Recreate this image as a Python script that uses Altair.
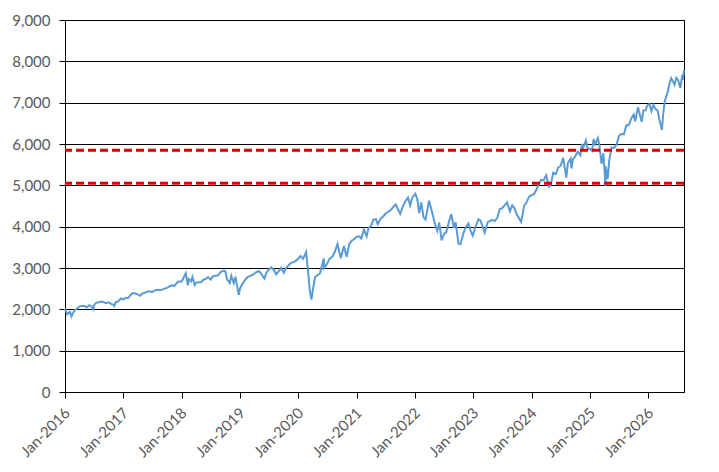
import altair as alt
import pandas as pd

dates = [
    "2016-01-01", "2016-01-15", "2016-02-01", "2016-02-11", "2016-02-15", "2016-03-01", "2016-03-15",
    "2016-04-01", "2016-04-15", "2016-05-01", "2016-05-15", "2016-06-01", "2016-06-15", "2016-06-27",
    "2016-07-01", "2016-07-15", "2016-08-01", "2016-08-15", "2016-09-01", "2016-09-15", "2016-10-01",
    "2016-10-15", "2016-11-01", "2016-11-04", "2016-11-15", "2016-12-01", "2016-12-15",
    "2017-01-01", "2017-01-15", "2017-02-01", "2017-02-15", "2017-03-01", "2017-03-15", "2017-04-01",
    "2017-04-15", "2017-05-01", "2017-05-15", "2017-06-01", "2017-06-15", "2017-07-01", "2017-07-15",
    "2017-08-01", "2017-08-15", "2017-09-01", "2017-09-15", "2017-10-01", "2017-10-15", "2017-11-01",
    "2017-11-15", "2017-12-01", "2017-12-15",
    "2018-01-01", "2018-01-15", "2018-01-26", "2018-02-08", "2018-02-15", "2018-03-01", "2018-03-09",
    "2018-03-23", "2018-04-01", "2018-04-15", "2018-05-01", "2018-05-15", "2018-06-01", "2018-06-15",
    "2018-07-01", "2018-07-15", "2018-08-01", "2018-08-15", "2018-09-01", "2018-09-20", "2018-10-01",
    "2018-10-11", "2018-10-29", "2018-11-07", "2018-11-23", "2018-12-03", "2018-12-24",
    "2019-01-01", "2019-01-15", "2019-02-01", "2019-02-15", "2019-03-01", "2019-03-15", "2019-04-01",
    "2019-04-15", "2019-05-01", "2019-05-15", "2019-06-03", "2019-06-15", "2019-07-01", "2019-07-15",
    "2019-08-01", "2019-08-15", "2019-09-01", "2019-09-15", "2019-10-02", "2019-10-15", "2019-11-01",
    "2019-11-15", "2019-12-01", "2019-12-15",
    "2020-01-01", "2020-01-15", "2020-01-31", "2020-02-19", "2020-03-01", "2020-03-12", "2020-03-23",
    "2020-04-01", "2020-04-15", "2020-05-01", "2020-05-15", "2020-06-08", "2020-06-11", "2020-07-01",
    "2020-07-15", "2020-08-01", "2020-08-15", "2020-09-02", "2020-09-23", "2020-10-12", "2020-10-30",
    "2020-11-15", "2020-12-01", "2020-12-15",
    "2021-01-01", "2021-01-15", "2021-01-29", "2021-02-15", "2021-03-04", "2021-03-15", "2021-04-01",
    "2021-04-15", "2021-05-01", "2021-05-12", "2021-06-01", "2021-06-15", "2021-07-01", "2021-07-15",
    "2021-08-01", "2021-08-15", "2021-09-02", "2021-09-30", "2021-10-15", "2021-11-01", "2021-11-18",
    "2021-12-01", "2021-12-15",
    "2022-01-03", "2022-01-15", "2022-01-27", "2022-02-09", "2022-02-23", "2022-03-08", "2022-03-29",
    "2022-04-15", "2022-05-01", "2022-05-20", "2022-06-01", "2022-06-16", "2022-07-01", "2022-07-15",
    "2022-08-01", "2022-08-16", "2022-09-01", "2022-09-12", "2022-09-30", "2022-10-12", "2022-11-01",
    "2022-11-15", "2022-12-01", "2022-12-15", "2022-12-28",
    "2023-01-15", "2023-02-02", "2023-02-15", "2023-03-13", "2023-04-01", "2023-04-15", "2023-05-01",
    "2023-05-15", "2023-06-01", "2023-06-15", "2023-07-01", "2023-07-31", "2023-08-18", "2023-09-01",
    "2023-09-15", "2023-10-01", "2023-10-27", "2023-11-15", "2023-12-01", "2023-12-15",
    "2024-01-01", "2024-01-15", "2024-02-01", "2024-02-15", "2024-03-01", "2024-03-15", "2024-04-01",
    "2024-04-19", "2024-05-01", "2024-05-15", "2024-06-01", "2024-06-15", "2024-07-01", "2024-07-16",
    "2024-08-05", "2024-08-15", "2024-09-01", "2024-09-06", "2024-09-15", "2024-10-01", "2024-10-15",
    "2024-11-01", "2024-11-11", "2024-11-15", "2024-12-06", "2024-12-18",
    "2025-01-01", "2025-01-13", "2025-01-23", "2025-02-03", "2025-02-19", "2025-03-01", "2025-03-13",
    "2025-03-25", "2025-04-08", "2025-04-09", "2025-04-21", "2025-05-01", "2025-05-15", "2025-06-01",
    "2025-06-15", "2025-07-01", "2025-07-15", "2025-08-01", "2025-08-15", "2025-09-01", "2025-09-15",
    "2025-10-01", "2025-10-10", "2025-10-28", "2025-11-20", "2025-12-01", "2025-12-15", "2025-12-24",
    "2026-01-08", "2026-01-20", "2026-02-01", "2026-02-15", "2026-03-01", "2026-03-10", "2026-03-20",
    "2026-03-27", "2026-04-03", "2026-04-13", "2026-04-22", "2026-05-03", "2026-05-12", "2026-05-24",
    "2026-06-03", "2026-06-14", "2026-06-25", "2026-07-06", "2026-07-13", "2026-07-20", "2026-08-01",
    "2026-08-05", "2026-08-12",
]

values = [
    2012, 1880, 1940, 1829, 1865, 1978, 2015,
    2072, 2081, 2081, 2047, 2099, 2071, 2001,
    2102, 2161, 2170, 2190, 2170, 2147, 2168,
    2133, 2111, 2085, 2180, 2191, 2262,
    2239, 2275, 2280, 2350, 2396, 2385, 2363,
    2329, 2388, 2402, 2430, 2432, 2423, 2459,
    2476, 2464, 2476, 2500, 2519, 2553, 2579,
    2564, 2642, 2676,
    2674, 2786, 2873, 2581, 2731, 2677, 2786,
    2588, 2640, 2656, 2654, 2711, 2735, 2779,
    2718, 2798, 2813, 2818, 2901, 2930, 2924,
    2728, 2641, 2813, 2633, 2790, 2351,
    2507, 2610, 2706, 2775, 2803, 2822, 2867,
    2905, 2923, 2850, 2744, 2886, 2964, 3014,
    2953, 2847, 2926, 3007, 2887, 2995, 3066,
    3120, 3141, 3168,
    3231, 3289, 3225, 3386, 2954, 2480, 2237,
    2470, 2783, 2831, 2863, 3232, 3002, 3115,
    3227, 3271, 3373, 3580, 3237, 3534, 3270,
    3585, 3662, 3694,
    3756, 3768, 3714, 3934, 3768, 3968, 4020,
    4170, 4181, 4063, 4202, 4246, 4319, 4360,
    4395, 4468, 4537, 4308, 4471, 4613, 4704,
    4513, 4709,
    4796, 4662, 4326, 4587, 4225, 4170, 4631,
    4392, 4132, 3901, 4101, 3667, 3825, 3863,
    4119, 4305, 3967, 4110, 3586, 3577, 3856,
    3991, 4076, 3895, 3783,
    3999, 4180, 4147, 3855, 4109, 4137, 4167,
    4136, 4221, 4426, 4450, 4589, 4370, 4516,
    4450, 4288, 4117, 4502, 4595, 4719,
    4770, 4783, 4906, 5029, 5137, 5117, 5243,
    4967, 5018, 5308, 5277, 5431, 5475, 5667,
    5186, 5543, 5648, 5408, 5626, 5709, 5815,
    5728, 6001, 5870, 6090, 5872,
    5882, 5836, 6119, 5994, 6144, 5955, 5522,
    5777, 4982, 5457, 5158, 5604, 5916, 5912,
    5977, 6198, 6243, 6238, 6449, 6460, 6615,
    6711, 6552, 6890, 6538, 6812, 6816, 6930,
    6970, 6800, 6950, 6850, 6800, 6600, 6450,
    6340, 6700, 7020, 7150, 7265, 7450, 7590,
    7520, 7430, 7600, 7550, 7450, 7355, 7670,
    7550, 7790,
]

thresholds = [5050, 5850]
y_ticks = list(range(0, 9001, 1000))
x_tick_years = list(range(2016, 2027))

df = pd.DataFrame({"date": pd.to_datetime(dates), "value": values})
thr = pd.DataFrame({"value": thresholds})

font = "Lato"
label_color = "#595959"

x_scale = alt.Scale(domain=[alt.DateTime(year=2016, month=1, date=1),
                            alt.DateTime(year=2026, month=8, date=12)])
y_scale = alt.Scale(domain=[0, 9000], nice=False)

x_axis = alt.Axis(
    values=[alt.DateTime(year=y, month=1, date=1) for y in x_tick_years],
    format="%b-%Y", labelAngle=315, labelAlign="right", labelBaseline="middle",
    labelOffset=2, labelPadding=12, tickSize=6, tickColor="black",
    domainColor="black", grid=False, title=None, labelFont=font,
    labelFontSize=15, labelColor=label_color, labelOverlap=False, labelFlush=False,
    labelBound=False,
)
y_axis = alt.Axis(
    values=y_ticks, format=",.0f", grid=True, gridColor="black", gridWidth=1,
    tickSize=6, tickColor="black", domainColor="black", labelPadding=9,
    title=None, labelFont=font, labelFontSize=15, labelColor=label_color,
)

line = alt.Chart(df).mark_line(color="#5B9BD5", strokeWidth=2).encode(
    x=alt.X("date:T", scale=x_scale, axis=x_axis),
    y=alt.Y("value:Q", scale=y_scale, axis=y_axis),
)

rules = alt.Chart(thr).mark_rule(color="#E00000", strokeWidth=3, strokeDash=[8, 4]).encode(
    y=alt.Y("value:Q", scale=y_scale, axis=y_axis),
)

chart = alt.layer(line, rules).properties(
    width=619, height=372,
    padding={"left": 57, "top": 12, "right": 20, "bottom": 72},
    autosize=alt.AutoSizeParams(type="none"),
    background="white",
).configure_view(stroke="black", strokeWidth=1)

chart.save("out.html", embed_options={"renderer": "svg", "actions": False})
